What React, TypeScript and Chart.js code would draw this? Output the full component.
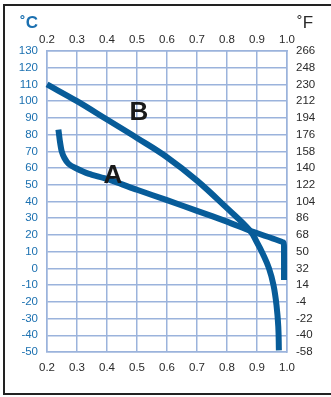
import React, { useEffect, useRef } from "react";
import { Chart, registerables } from "chart.js";

Chart.register(...registerables);

const xTicks = [0.2, 0.3, 0.4, 0.5, 0.6, 0.7, 0.8, 0.9, 1.0];
const celsiusTicks = [-50, -40, -30, -20, -10, 0, 10, 20, 30, 40, 50, 60, 70, 80, 90, 100, 110, 120, 130];
const fahrenheitTicks = [-58, -40, -22, -4, 14, 32, 50, 68, 86, 104, 122, 140, 158, 176, 194, 212, 230, 248, 266];

const curveAX = [0.238, 0.243, 0.249, 0.258, 0.272, 0.295, 0.34, 0.4, 0.5, 0.6, 0.7, 0.8, 0.877, 0.988, 0.99, 0.99];
const curveAY = [83, 76, 70, 66, 62.5, 60, 56.5, 53.5, 47, 40.8, 34.4, 28, 22.5, 15.5, 12, -7];

const curveBX = [0.2, 0.3, 0.4, 0.5, 0.6, 0.7, 0.8, 0.877, 0.9, 0.92, 0.94, 0.955, 0.965, 0.971, 0.973];
const curveBY = [110, 100, 89, 78, 66.5, 52.5, 36, 22.5, 15.5, 8.5, 0, -10, -22, -35, -49];

const curveLabels = ["A", "B"];
const labelX = [0.42, 0.506];
const labelY = [55.4, 93];

const LINE = "#075c99";
const GRID = "#9bb3dc";
const BLUE_TEXT = "#1b70b0";
const DARK_TEXT = "#2a2a2a";

export default function App() {
  const ref = useRef<HTMLCanvasElement | null>(null);

  useEffect(() => {
    const canvas = ref.current;
    if (!canvas) return;
    const labelPlugin = {
      id: "curveLabels",
      afterDatasetsDraw(chart: any) {
        const ctx = chart.ctx;
        const xs = chart.scales.x;
        const ys = chart.scales.y;
        ctx.save();
        ctx.font = "bold 26px 'Liberation Sans', Arial, sans-serif";
        ctx.fillStyle = "#1a1a1a";
        ctx.textAlign = "center";
        ctx.textBaseline = "middle";
        curveLabels.forEach((t, i) => {
          ctx.fillText(t, xs.getPixelForValue(labelX[i]), ys.getPixelForValue(labelY[i]));
        });
        ctx.restore();
      },
    };
    const font = { family: "'Liberation Sans', Arial, sans-serif", size: 11.5 };
    const chart = new Chart(canvas, {
      type: "line",
      data: {
        datasets: [
          {
            label: "A",
            data: curveAX.map((x, i) => ({ x, y: curveAY[i] })),
            borderColor: LINE,
            borderWidth: 6,
            pointRadius: 0,
            tension: 0.15,
            borderCapStyle: "butt",
            borderJoinStyle: "round",
            fill: false,
            clip: false as any,
          },
          {
            label: "B",
            data: curveBX.map((x, i) => ({ x, y: curveBY[i] })),
            borderColor: LINE,
            borderWidth: 6,
            pointRadius: 0,
            tension: 0.4,
            borderCapStyle: "butt",
            borderJoinStyle: "round",
            fill: false,
            clip: false as any,
          },
        ],
      },
      options: {
        responsive: false,
        animation: false,
        devicePixelRatio: 1,
        layout: { padding: 0 },
        plugins: { legend: { display: false }, tooltip: { enabled: false } },
        scales: {
          x: {
            type: "linear",
            position: "bottom",
            min: 0.2,
            max: 1.0,
            afterBuildTicks: (s: any) => { s.ticks = xTicks.map((v) => ({ value: v })); },
            afterFit: (s: any) => { s.height = 45; },
            grid: { color: GRID, lineWidth: 1.5, drawTicks: false },
            border: { color: GRID, width: 1.5 },
            ticks: { color: DARK_TEXT, font, padding: 9, maxRotation: 0, autoSkip: false, callback: (v: any) => Number(v).toFixed(1) },
          },
          xTop: {
            type: "linear",
            position: "top",
            min: 0.2,
            max: 1.0,
            afterBuildTicks: (s: any) => { s.ticks = xTicks.map((v) => ({ value: v })); },
            afterFit: (s: any) => { s.height = 51; },
            grid: { display: false, drawTicks: false },
            border: { color: GRID, width: 1.5 },
            ticks: { color: DARK_TEXT, font, padding: 4, maxRotation: 0, autoSkip: false, callback: (v: any) => Number(v).toFixed(1) },
          },
          y: {
            type: "linear",
            position: "left",
            min: -50,
            max: 130,
            afterBuildTicks: (s: any) => { s.ticks = celsiusTicks.map((v) => ({ value: v })); },
            afterFit: (s: any) => { s.width = 47; },
            grid: { color: GRID, lineWidth: 1.5, drawTicks: false },
            border: { color: GRID, width: 1.5 },
            ticks: { color: BLUE_TEXT, font, padding: 9, autoSkip: false },
          },
          yF: {
            type: "linear",
            position: "right",
            min: -58,
            max: 266,
            afterBuildTicks: (s: any) => { s.ticks = fahrenheitTicks.map((v) => ({ value: v })); },
            afterFit: (s: any) => { s.width = 44; },
            grid: { display: false, drawTicks: false },
            border: { color: GRID, width: 1.5 },
            ticks: { color: DARK_TEXT, font, padding: 9, autoSkip: false },
          },
        },
      } as any,
      plugins: [labelPlugin],
    });
    return () => chart.destroy();
  }, []);

  return (
    <div style={{ position: "fixed", left: 0, top: 0, width: 331, height: 397, background: "#fff", overflow: "hidden" }}>
      <canvas ref={ref} width={331} height={397} style={{ position: "absolute", left: 0, top: 0, width: 331, height: 397 }} />
      <div style={{ position: "absolute", left: 3, top: 4, width: 340, height: 391, boxSizing: "border-box", border: "2px solid #222", pointerEvents: "none" }} />
      <div style={{ position: "absolute", left: 20, top: 13, fontFamily: "'Liberation Sans', Arial, sans-serif", fontSize: 17, fontWeight: "bold", color: BLUE_TEXT }}>˚C</div>
      <div style={{ position: "absolute", left: 297, top: 13, fontFamily: "'Liberation Sans', Arial, sans-serif", fontSize: 17, color: DARK_TEXT }}>˚F</div>
    </div>
  );
}
